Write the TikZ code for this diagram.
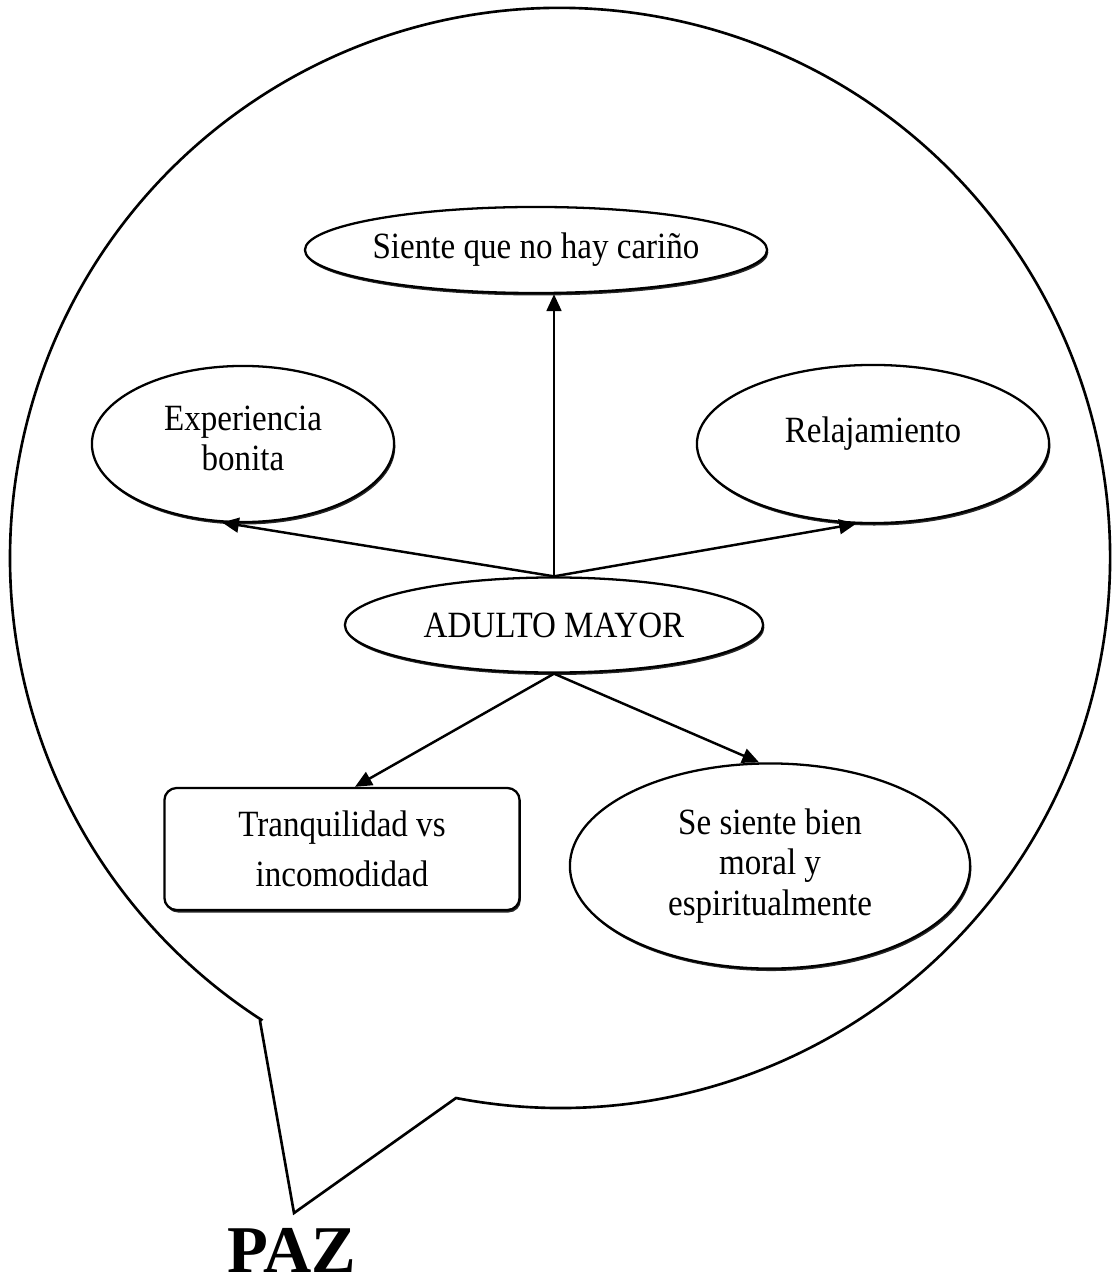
\documentclass[tikz,border=0pt]{standalone}
\usepackage{fontspec}
\usepackage{graphicx}
\setmainfont{Liberation Serif}
\usetikzlibrary{shapes.geometric,arrows.meta,shadows}
\newcommand{\vstr}[1]{\scalebox{1}[1.12]{#1}}
\begin{document}
\begin{tikzpicture}[x=0.01cm,y=-0.01cm,
  lbl/.style={font=\fontsize{9.4}{11.4}\selectfont, align=center, inner sep=0pt},
  oval/.style={lbl, ellipse, draw, line width=0.65pt, fill=white,
    drop shadow={shadow xshift=0.35pt, shadow yshift=-0.7pt, fill=black, opacity=0.85}},
  box/.style={lbl, rectangle, rounded corners=3.5pt, draw, line width=0.65pt, fill=white,
    drop shadow={shadow xshift=0.35pt, shadow yshift=-0.7pt, fill=black, opacity=0.85}},
  arr/.style={-{Triangle[length=4.8pt,width=4.2pt]}, line width=0.7pt},
  bubble/.style={draw, line width=0.75pt, line join=miter}
]
\useasboundingbox (0,0) rectangle (1118,1286);
% speech bubble
\draw[bubble] (260,1021) -- (294,1213) -- (456,1098)
  arc[start angle=100.9, end angle=-237.1, radius=550] -- cycle;
% nodes
\node[oval, minimum width=4.55cm, minimum height=0.86cm] (siente) at (536,250) {\vstr{Siente que no hay cariño}};
\node[oval, minimum width=3.02cm, minimum height=1.56cm, text depth=0.12cm] (exp) at (243,444) {\vstr{Experiencia}\\\vstr{bonita}};
\node[oval, minimum width=3.52cm, minimum height=1.58cm, text depth=0.28cm] (rel) at (873,444) {\vstr{Relajamiento}};
\node[oval, minimum width=4.18cm, minimum height=0.95cm] (adulto) at (554,625) {\vstr{ADULTO MAYOR}};
\node[box, minimum width=3.55cm, minimum height=1.22cm] (tranq) at (342,849) {\vstr{Tranquilidad vs}\\[3pt]\vstr{incomodidad}};
\node[oval, minimum width=4.0cm, minimum height=2.05cm] (se) at (770,866) {\vstr{Se siente bien}\\\vstr{moral y}\\\vstr{espiritualmente}};
\node[inner sep=0pt, font=\bfseries\fontsize{19}{21}\selectfont] (paz) at (292,1250) {PAZ};
% connectors
\draw[arr] (adulto.north) -- (adulto.north |- siente.south);
\draw[arr] (adulto.north) -- (exp.255);
\draw[arr] (adulto.north) -- (rel.258);
\draw[arr] (adulto.south) -- ([xshift=0.13cm]tranq.north);
\draw[arr] (adulto.south) -- (se.96);
\end{tikzpicture}
\end{document}
